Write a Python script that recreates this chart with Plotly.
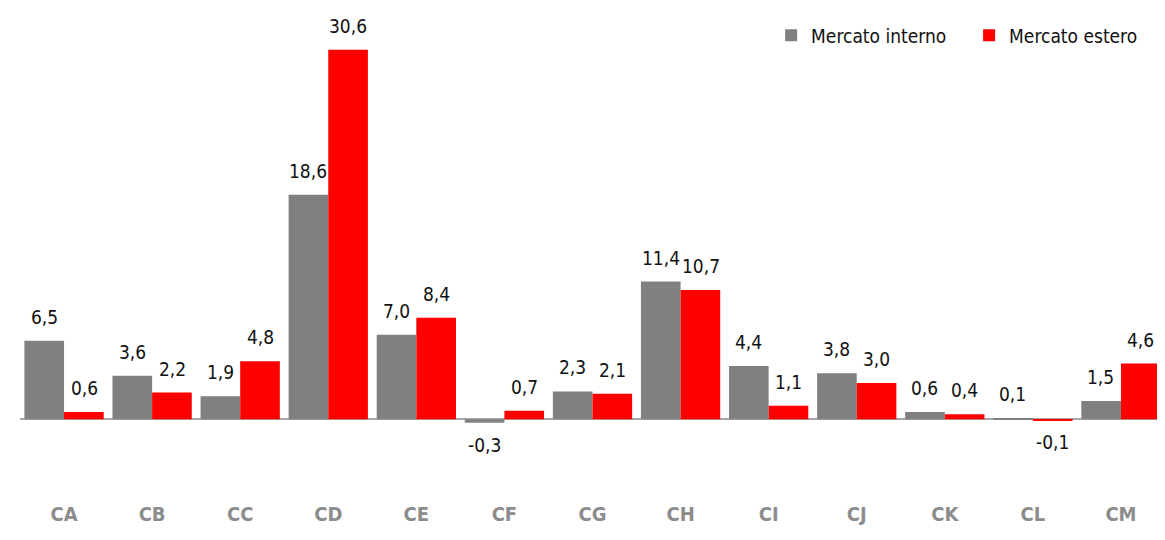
import plotly.graph_objects as go

# dati
categorie = ["CA", "CB", "CC", "CD", "CE", "CF", "CG", "CH", "CI", "CJ", "CK", "CL", "CM"]
interno = [6.5, 3.6, 1.9, 18.6, 7.0, -0.3, 2.3, 11.4, 4.4, 3.8, 0.6, 0.1, 1.5]
estero = [0.6, 2.2, 4.8, 30.6, 8.4, 0.7, 2.1, 10.7, 1.1, 3.0, 0.4, -0.1, 4.6]

FONT = "Liberation Sans Narrow, Arial Narrow, DejaVu Sans Condensed, sans-serif"
GRIGIO = "#808080"
ROSSO = "#FF0000"


def fmt(v):
    return f"{v:.1f}".replace(".", ",")


fig = go.Figure()
fig.add_trace(go.Bar(x=categorie, y=interno, name="Mercato interno", marker_color=GRIGIO,
                     marker_line_width=0))
fig.add_trace(go.Bar(x=categorie, y=estero, name="Mercato estero", marker_color=ROSSO,
                     marker_line_width=0))

# etichette valori
for serie, shift in [(interno, -20), (estero, 20)]:
    for c, v in zip(categorie, serie):
        fig.add_annotation(
            x=c, y=v, text=fmt(v), showarrow=False,
            xshift=shift, yshift=11 if v >= 0 else -9,
            yanchor="bottom" if v >= 0 else "top",
            font=dict(family=FONT, size=19, color="#111111"),
        )

# la pagina ha un margine di 8px: figura un po' piu piccola
fig.update_layout(
    width=1157, height=532,
    margin=dict(l=12, r=0, t=2, b=40, autoexpand=False),
    barmode="group", bargap=0.1, bargroupgap=0,
    plot_bgcolor="white", paper_bgcolor="white",
    font=dict(family=FONT),
    legend=dict(orientation="h", x=0.656, xanchor="left", y=0.948, yanchor="middle",
                font=dict(family=FONT, size=19, color="#111111"),
                entrywidth=153, traceorder="normal", bgcolor="rgba(0,0,0,0)"),
    showlegend=True,
)
fig.update_xaxes(range=[-0.5, 12.5], showgrid=False, showline=False, ticks="",
                 tickfont=dict(family=FONT, size=20, color="#8C8C8C", weight="bold"))
fig.update_yaxes(range=[-6.7, 33.9], showgrid=False, showticklabels=False,
                 zeroline=True, zerolinecolor="#A6A6A6", zerolinewidth=2)

fig.write_html("out.html")
